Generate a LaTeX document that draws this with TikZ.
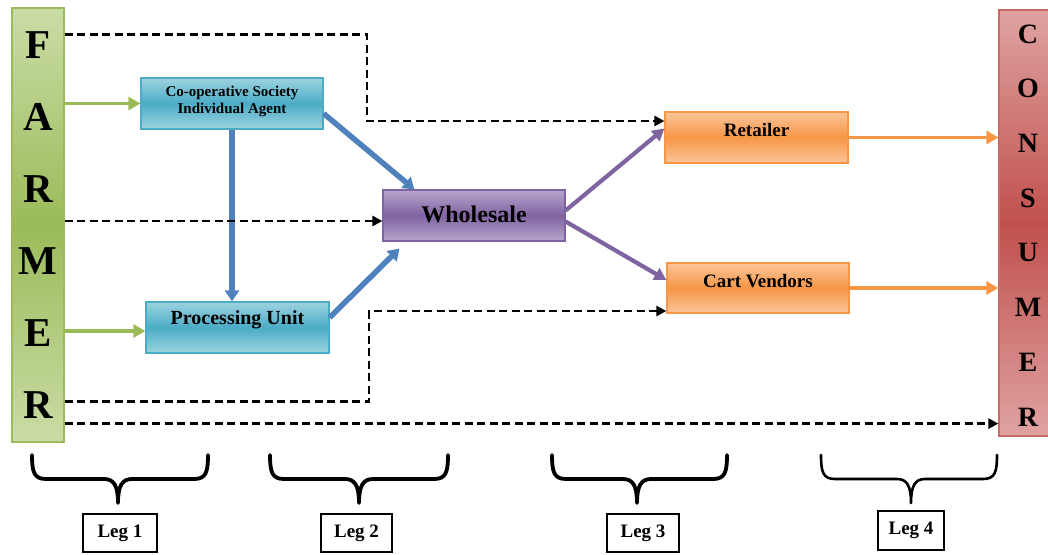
\documentclass[tikz,border=0pt]{standalone}
\usepackage{fontspec}
\setmainfont{Liberation Serif}
\usetikzlibrary{arrows.meta,calc,shadows}

\definecolor{farmerLight}{HTML}{CADCA6}
\definecolor{farmerDark}{HTML}{9BBB59}
\definecolor{tealLight}{HTML}{9DD2E0}
\definecolor{tealDark}{HTML}{4BACC6}
\definecolor{purpleLight}{HTML}{B7A6CC}
\definecolor{purpleDark}{HTML}{8064A2}
\definecolor{orangeLight}{HTML}{FBC59A}
\definecolor{orangeDark}{HTML}{F79646}
\definecolor{redLight}{HTML}{DFA3A1}
\definecolor{redDark}{HTML}{C0504D}
\definecolor{linkBlue}{HTML}{4F81BD}
\definecolor{linkGreen}{HTML}{9BBB59}
\definecolor{linkPurple}{HTML}{8064A2}
\definecolor{linkOrange}{HTML}{F79646}

\begin{document}
\begin{tikzpicture}[x=1pt,y=-1pt,
  endbar/.style={rectangle, inner sep=0pt, line width=1.2pt},
  stagebox/.style={rectangle, line width=1.2pt, minimum width=182pt, minimum height=51pt,
    inner sep=0pt, drop shadow={shadow xshift=1.2pt, shadow yshift=-1.2pt, opacity=0.35}},
  tealbox/.style={stagebox, draw=tealDark, top color=tealLight, bottom color=tealLight, middle color=tealDark},
  purplebox/.style={stagebox, draw=purpleDark, top color=purpleLight, bottom color=purpleLight, middle color=purpleDark},
  orangebox/.style={stagebox, draw=orangeDark, top color=orangeLight, bottom color=orangeLight, middle color=orangeDark},
  stagetext/.style={inner sep=0pt, text=black, align=center},
  barletter/.style={inner sep=0pt, text=black},
  greenlink/.style={draw=linkGreen, line width=3.6pt, -{Triangle[length=12pt,width=13pt]}},
  bluelink/.style={draw=linkBlue, line width=5.5pt, -{Triangle[length=11pt,width=14pt]}},
  purplelink/.style={draw=linkPurple, line width=4.2pt, -{Triangle[length=12pt,width=13pt]}},
  orangelink/.style={draw=linkOrange, line width=3.6pt, -{Triangle[length=12pt,width=13pt]}},
  dashlink/.style={draw=black, line width=2.6pt, dash pattern=on 8pt off 4.5pt, -{Triangle[length=10pt,width=10pt]}},
  legbrace/.style={draw=black, line cap=round, line join=round},
  legbox/.style={draw=black, line width=1.2pt, fill=white, minimum height=38pt, inner sep=0pt,
    font=\bfseries\fontsize{19}{19}\selectfont}
]
\useasboundingbox (0,0) rectangle (1048,554);

% the two end bars
\node[endbar, draw=farmerDark, top color=farmerLight, bottom color=farmerLight, middle color=farmerDark,
  minimum width=52pt, minimum height=434pt] (farmer) at (38,225) {};
\node[endbar, draw=redDark!85, top color=redLight, bottom color=redLight, middle color=redDark,
  minimum width=50pt, minimum height=426pt] (cons) at (1024,223) {};

\foreach \L [count=\i] in {F,A,R,M,E,R}
  \node[barletter, font=\bfseries\fontsize{41}{41}\selectfont] (farmerL\i) at (38,{45+(\i-1)*72}) {\L};
\foreach \L [count=\i] in {C,O,N,S,U,M,E,R}
  \node[barletter, font=\bfseries\fontsize{28}{28}\selectfont] (consL\i) at (1028,{34+(\i-1)*54.7}) {\L};

% stage boxes
\node[tealbox] (coop) at (232,103.5) {};
\node[tealbox, minimum width=183pt] (proc) at (237.5,327.5) {};
\node[purplebox] (whole) at (474,215.5) {};
\node[orangebox, minimum width=183pt] (ret) at (756.5,137.5) {};
\node[orangebox, minimum height=50pt] (cart) at (758,288) {};

\node[stagetext, font=\bfseries\fontsize{15}{17}\selectfont] (coopT) at ($(coop.center)+(0,-2)$)
  {Co-operative Society\\Individual Agent};
\node[stagetext, font=\bfseries\fontsize{20}{20}\selectfont] (procT) at ($(proc.center)+(0,-8)$) {Processing Unit};
\node[stagetext, font=\bfseries\fontsize{24}{24}\selectfont] (wholeT) at ($(whole.center)+(0,-1)$) {Wholesale};
\node[stagetext, font=\bfseries\fontsize{19}{19}\selectfont] (retT) at ($(ret.center)+(0,-8)$) {Retailer};
\node[stagetext, font=\bfseries\fontsize{19}{19}\selectfont] (cartT) at ($(cart.center)+(0,-7)$) {Cart Vendors};

% solid flows
\draw[greenlink] (farmer.east |- coop.west) -- (coop.west);
\draw[greenlink] ($(farmer.east |- proc.west)+(0,3.5)$) -- ($(proc.west)+(0,3.5)$);
\draw[bluelink] (coop.south) -- (coop.south |- proc.north);
\draw[bluelink] ($(coop.east)+(0,10)$) -- ($(whole.north west)+(32,0)$);
\draw[bluelink] ($(proc.east)+(0,-10)$) -- ($(whole.south west)+(17,7)$);
\draw[purplelink] ($(whole.east)+(0,-5)$) -- ($(ret.west)+(0,-9)$);
\draw[purplelink] ($(whole.east)+(0,6)$) -- ($(cart.west)+(0,-8)$);
\draw[orangelink] (ret.east) -- (ret.east -| cons.west);
\draw[orangelink] (cart.east) -- (cart.east -| cons.west);

% direct (dashed) flows
\coordinate (bendTop) at (367,121);
\coordinate (bendLow) at (369,311);
\coordinate (topLine) at ($(farmer.north east)+(0,27)$);
\coordinate (midLine) at ($(whole.west)+(0,5.5)$);
\coordinate (lowLine) at ($(farmer.south east)+(0,-41)$);
\coordinate (baseLine) at ($(farmer.south east)+(0,-19)$);
\draw[dashlink] (topLine) -| (bendTop) -- (ret.west |- bendTop);
\draw[dashlink] (farmer.east |- midLine) -- (midLine);
\draw[dashlink] (lowLine) -| (bendLow) -- (cart.west |- bendLow);
\draw[dashlink] (baseLine) -- (baseLine -| cons.west);

% braces over the legs
\foreach \xl/\xc/\xr/\lw in {32/118/208/3.8, 270/359/448/3.8, 552/637/727/3.8, 821/911/997/2.6}
  \draw[legbrace, line width=\lw pt]
    (\xl,455) .. controls (\xl,472) and ({\xl+2},479) .. ({\xl+14},479)
    -- ({\xc-14},479) .. controls ({\xc-4},479) and (\xc,486) .. (\xc,503)
    .. controls (\xc,486) and ({\xc+4},479) .. ({\xc+14},479)
    -- ({\xr-14},479) .. controls ({\xr-2},479) and (\xr,472) .. (\xr,455);

\node[legbox, minimum width=74pt] (leg1) at (120,533) {Leg 1};
\node[legbox, minimum width=71pt] (leg2) at (356.5,533) {Leg 2};
\node[legbox, minimum width=72pt] (leg3) at (643,533) {Leg 3};
\node[legbox, minimum width=66pt, minimum height=39pt] (leg4) at (911,530.5) {Leg 4};
\end{tikzpicture}
\end{document}
